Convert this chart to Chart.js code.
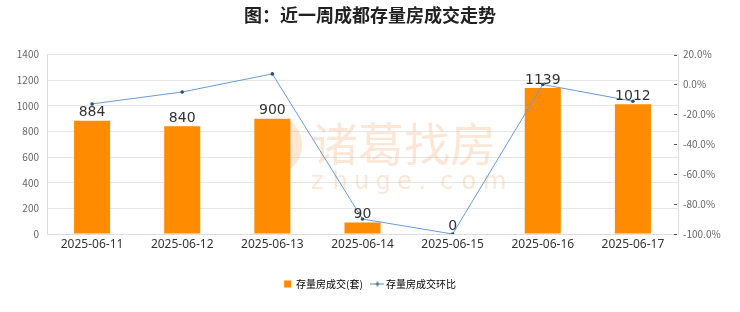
<!DOCTYPE html>
<html><head><meta charset="utf-8">
<script src="https://cdn.jsdelivr.net/npm/chart.js@4.4.0/dist/chart.umd.min.js"></script>
<style>html,body{margin:0;padding:0;background:#fff;}#c{display:block;}</style>
</head><body>
<canvas id="c" width="740" height="312"></canvas>
<script>
const categories = ['2025-06-11','2025-06-12','2025-06-13','2025-06-14','2025-06-15','2025-06-16','2025-06-17'];
const volumes = [884, 840, 900, 90, 0, 1139, 1012];
const ratios = [-13.0, -5.0, 7.1, -90.0, -100.0, 0.0, -11.2];
const barLabel = '存量房成交(套)';
const lineLabel = '存量房成交环比';
const titleText = '图：近一周成都存量房成交走势';

const FONT = "'Noto Sans CJK SC','Noto Sans','DejaVu Sans',sans-serif";

// legend marker for line series
const lineMarker = document.createElement('canvas');
lineMarker.width = 14; lineMarker.height = 7;
(function(){
  const g = lineMarker.getContext('2d');
  g.strokeStyle = '#5b8ec6'; g.lineWidth = 1;
  g.beginPath(); g.moveTo(0,3.5); g.lineTo(14,3.5); g.stroke();
  g.strokeStyle = '#2b4f78'; g.lineWidth = 1.2;
  g.beginPath(); g.moveTo(7,1); g.lineTo(7,6); g.moveTo(4.5,3.5); g.lineTo(9.5,3.5); g.stroke();
})();

const extras = {
  id: 'extras',
  beforeDatasetsDraw(chart) {
    const ctx = chart.ctx;
    ctx.save();
    // watermark
    ctx.fillStyle = 'rgba(246,178,125,0.32)';
    ctx.beginPath(); ctx.ellipse(282, 145, 20, 26, 0, 0, Math.PI*2); ctx.fill();
    ctx.font = "46px 'Noto Sans CJK SC'";
    ctx.textBaseline = 'middle'; ctx.textAlign = 'left';
    ctx.fillText('诸葛找房', 312, 144);
    ctx.font = "24px 'DejaVu Sans'";
    const s = 'zhuge.com';
    let x = 311;
    for (const ch of s) { ctx.fillText(ch, x, 183); x += 21.5; }
    ctx.restore();
  },
  afterDatasetsDraw(chart) {
    const ctx = chart.ctx;
    ctx.save();
    // bar labels
    const meta = chart.getDatasetMeta(0);
    ctx.font = "14px 'DejaVu Sans'";
    ctx.fillStyle = '#333';
    ctx.textAlign = 'center'; ctx.textBaseline = 'bottom';
    meta.data.forEach((el, i) => {
      ctx.fillText(String(volumes[i]), el.x, el.y - 1);
    });
    // inner ticks on right axis
    const r = chart.scales.y1;
    ctx.strokeStyle = '#555'; ctx.lineWidth = 1;
    r.ticks.forEach(t => {
      const py = Math.round(r.getPixelForValue(t.value)) + 0.5;
      ctx.beginPath(); ctx.moveTo(chart.chartArea.right - 4, py); ctx.lineTo(chart.chartArea.right - 1, py); ctx.stroke();
    });
    ctx.restore();
  }
};

new Chart(document.getElementById('c'), {
  data: {
    labels: categories,
    datasets: [
      {
        type: 'bar', label: barLabel, data: volumes, yAxisID: 'y',
        backgroundColor: '#ff8c00', borderWidth: 0,
        barPercentage: 0.8, categoryPercentage: 0.5, order: 2
      },
      {
        type: 'line', label: lineLabel, data: ratios, yAxisID: 'y1',
        borderColor: '#6a9bd1', borderWidth: 1, backgroundColor: '#2b4f78',
        pointRadius: 1.8, pointBorderWidth: 0, pointBackgroundColor: '#2b4f78',
        tension: 0, order: 1
      }
    ]
  },
  options: {
    responsive: false, animation: false,
    layout: { padding: { left: 0, right: 0, top: 0, bottom: 13 } },
    plugins: {
      title: { display: true, text: titleText, color: '#222',
        font: { family: FONT, size: 18, weight: 'bold' }, padding: { top: 4, bottom: 29 } },
      legend: {
        position: 'bottom',
        labels: {
          usePointStyle: true, boxWidth: 7, boxHeight: 7, padding: 11,
          color: '#333', font: { family: FONT, size: 10 },
          generateLabels(chart) {
            return [
              { text: barLabel, fillStyle: '#ff8c00', strokeStyle: '#ff8c00', lineWidth: 0, pointStyle: 'rect', datasetIndex: 0, hidden: false },
              { text: lineLabel, fillStyle: '#5b8ec6', strokeStyle: '#5b8ec6', lineWidth: 0, pointStyle: lineMarker, datasetIndex: 1, hidden: false }
            ];
          }
        }
      },
      tooltip: { enabled: false }
    },
    scales: {
      x: {
        grid: { display: false, drawTicks: false },
        border: { display: true, color: '#ddd' },
        ticks: { color: '#333', font: { family: "'Noto Sans','DejaVu Sans',sans-serif", size: 12 }, padding: 3, maxRotation: 0 },
        afterFit(s) { s.height = 34; }
      },
      y: {
        position: 'left', min: 0, max: 1400,
        grid: { color: '#e6e6e6', drawTicks: false },
        border: { display: true, color: '#ddd' },
        ticks: { stepSize: 200, color: '#666', font: { family: FONT, size: 10 }, padding: 8,
          callback(v) { return String(v); } },
        afterFit(s) { s.width = 47; }
      },
      y1: {
        position: 'right', min: -100, max: 20,
        grid: { drawOnChartArea: false, drawTicks: false },
        border: { display: true, color: '#ddd' },
        ticks: { stepSize: 10, color: '#666', font: { family: FONT, size: 10 }, padding: 5,
          callback(v) { return (Math.round(v) % 20 === 0) ? v.toFixed(1) + '%' : ''; } },
        afterFit(s) { s.width = 62; }
      }
    }
  },
  plugins: [extras]
});
</script>
</body></html>
